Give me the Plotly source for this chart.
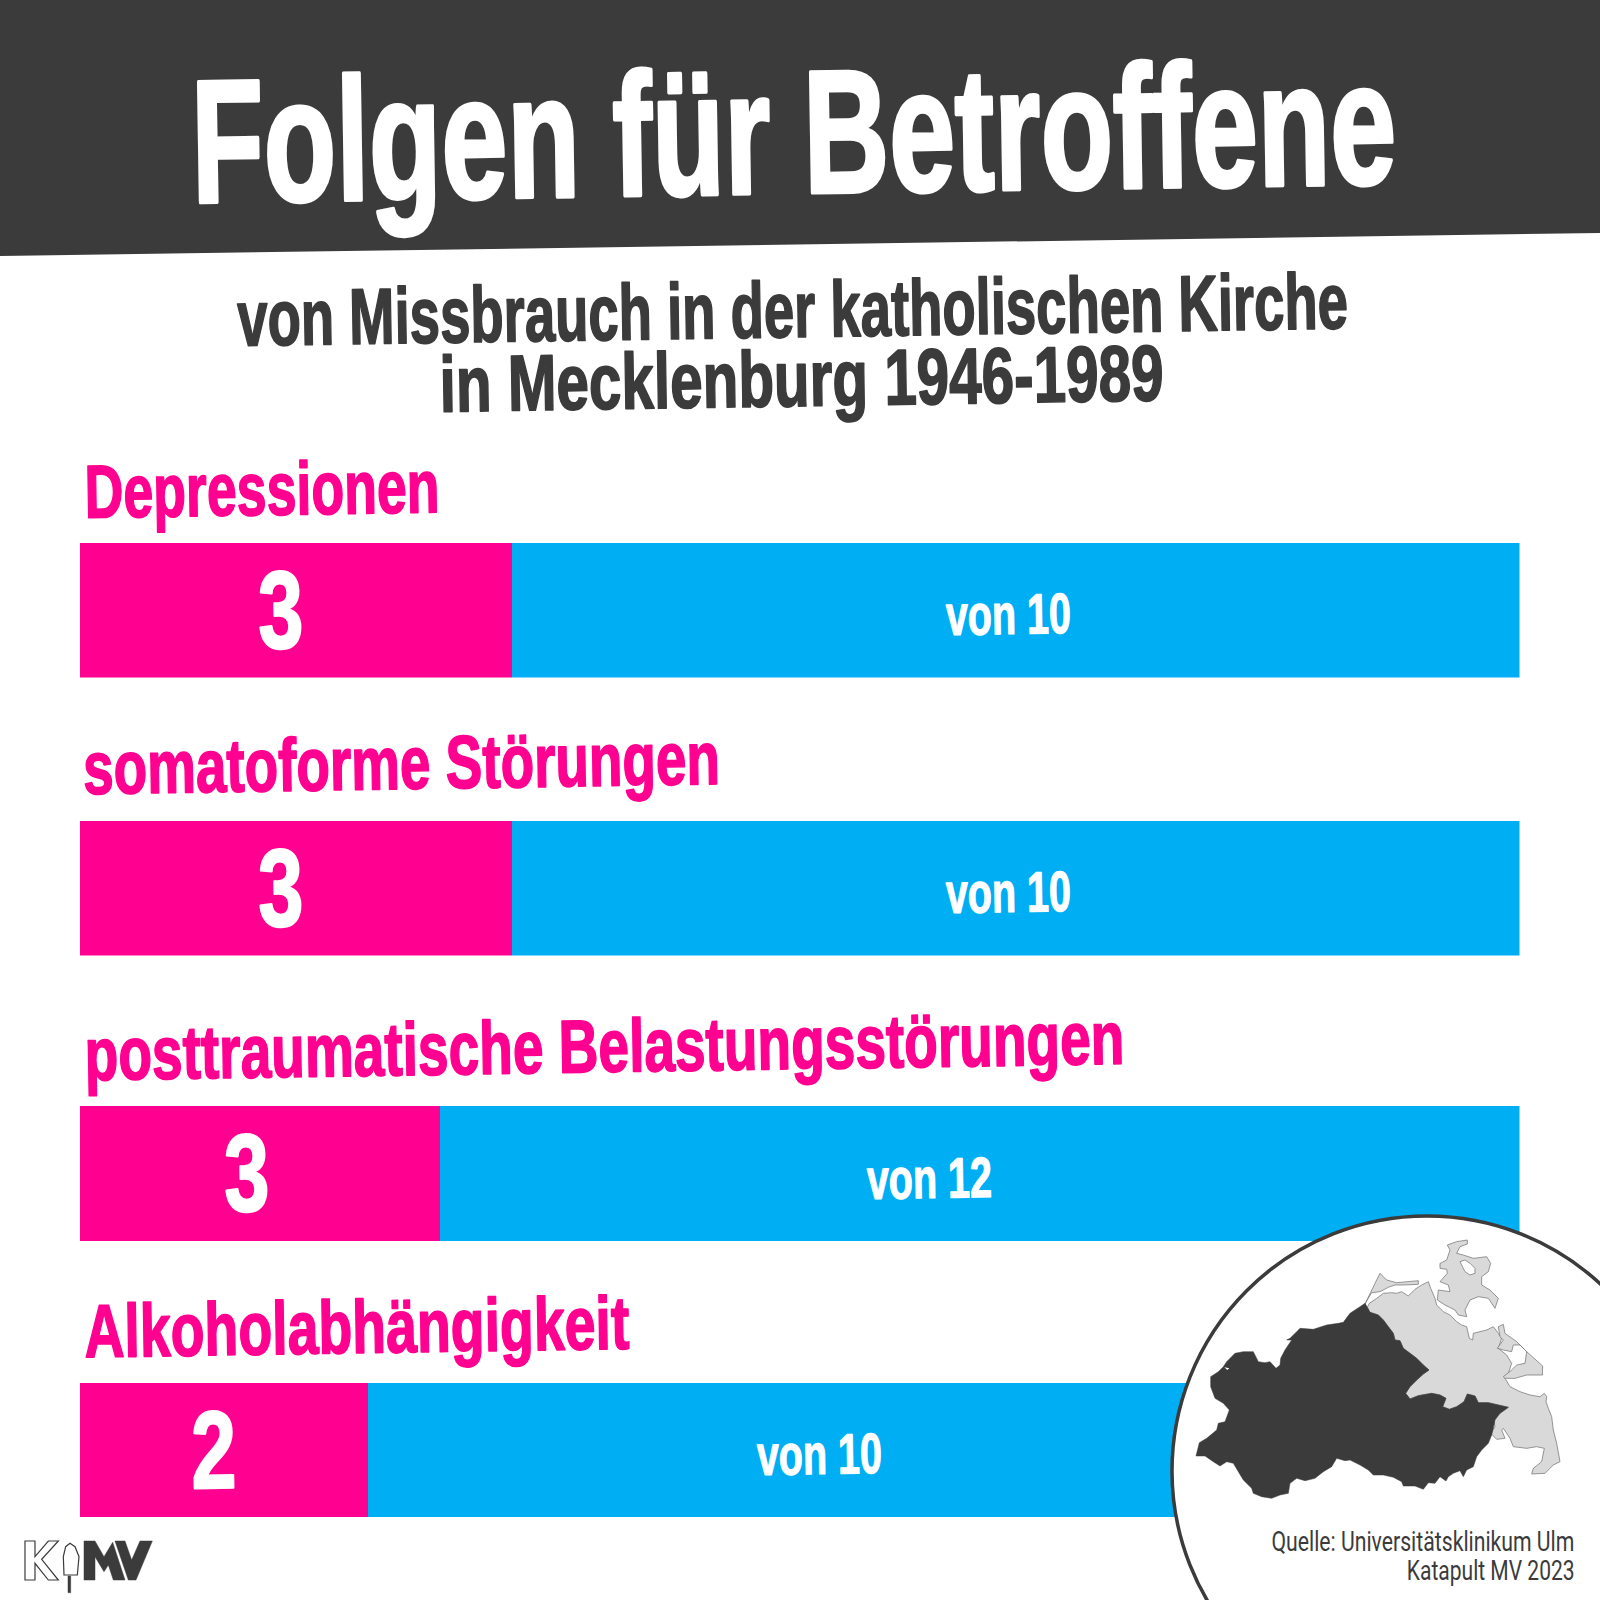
import json
import plotly.graph_objects as go

# ---- data ----
categories = ["Depressionen", "somatoforme Störungen", "posttraumatische Belastungsstörungen", "Alkoholabhängigkeit"]
affected = [3, 3, 3, 2]
totals = [10, 10, 12, 10]

title_text = "Folgen für Betroffene"
subtitle_lines = ["von Missbrauch in der katholischen Kirche", "in Mecklenburg 1946-1989"]
source_lines = ["Quelle: Universitätsklinikum Ulm", "Katapult MV 2023"]

# map outlines, traced in three 3x views of the inset: (x offset, y offset, points)
VIEW_A, VIEW_B, VIEW_C = (1190, 1290), (1360, 1230), (1360, 1380)
map_dark = [
    (VIEW_B, [(22,232),(30,247),(55,255),(70,270),(85,290),(100,310),(105,330),(120,332),(130,355),(150,370),(170,385),(190,405),(207,420),(190,432),(170,450),(150,470),(137,490)]),
    (VIEW_C, [(150,57),(175,47),(215,40),(240,45),(258,55),(248,80),(268,88),(290,80),(312,65),(322,42),(345,48),(355,68),(385,68),(415,75),(445,82),(420,100),(405,120),(400,145),(395,165),(385,190),(365,210),(350,230),(340,260),(320,270),(310,290),(300,272),(280,280),(265,290),(258,303),(240,290),(225,310),(205,308),(190,328),(165,318),(130,318),(125,305),(100,292),(70,285),(40,285),(25,270),(0,255)]),
    (VIEW_A, [(480,510),(465,512),(440,505),(425,530),(400,545),(375,565),(345,572),(320,565),(300,580),(295,610),(270,615),(245,625),(215,620),(190,610),(185,595),(160,570),(145,545),(130,520),(110,515),(90,528),(70,515),(45,498),(18,498),(28,458),(50,445),(80,420),(85,400),(105,395),(118,360),(100,340),(75,325),(62,290),(62,260),(85,245),(100,230),(110,215),(135,190),(160,185),(190,185),(205,215),(225,218),(240,215),(258,235),(270,225),(272,205),(285,180),(305,150),(290,150),(300,145),(320,125),(330,115),(370,118),(410,105),(445,100),(460,97),(480,70),(510,50),(525,40)]),
]
map_main = [
    (VIEW_B, [(22,232),(28,220),(50,205),(70,190),(95,188),(110,190),(125,185),(145,198),(165,178),(185,165),(205,155),(212,175),(225,205),(230,225),(250,245),(270,255),(290,275),(305,285),(320,290),(328,325),(338,330),(340,310),(380,300),(400,290),(415,310),(425,325),(415,355),(440,375),(455,400),(445,430),(435,445),(450,470),(480,485),(510,495),(540,500),(553,490),(560,500)]),
    (VIEW_C, [(558,65),(565,85),(575,110),(580,150),(590,190),(600,245),(580,255),(555,280),(515,282),(520,265),(545,245),(553,205),(530,200),(500,205),(460,200),(450,175),(430,145),(425,150),(435,175),(410,178),(392,160),(405,140),(400,115),(420,100),(445,82),(415,75),(385,68),(355,68),(345,48),(322,42),(312,65),(290,80),(268,88),(248,80),(258,55),(240,45),(215,40),(175,47),(150,57),(137,40)]),
    (VIEW_B, [(150,470),(170,450),(190,432),(207,420),(190,405),(170,385),(150,370),(130,355),(120,332),(105,330),(100,310),(85,290),(70,270),(55,255),(30,247)]),
]
map_darss = [(VIEW_B, [(12,228),(32,187),(45,160),(60,130),(80,150),(110,158),(175,152),(175,163),(130,165),(105,165),(85,172),(60,185),(35,188),(22,210)])]
map_ruegen = [(VIEW_B, [(245,98),(260,90),(270,60),(262,45),(290,35),(322,30),(322,42),(300,50),(290,70),(310,75),(340,85),(380,80),(392,100),(385,125),(365,140),(365,165),(390,180),(415,205),(405,235),(385,205),(355,200),(330,210),(315,240),(320,260),(295,255),(285,240),(255,225),(232,210),(235,180),(270,185),(265,165),(240,155),(262,130),(260,118),(240,115),(240,100)])]
map_bay = [(VIEW_B, [(300,95),(315,90),(330,100),(345,115),(345,130),(330,135),(315,125)])]
map_usedom = [(VIEW_B, [(415,290),(430,283),(435,310),(470,335),(500,365),(548,408),(547,435),(500,435),(465,445),(435,445),(430,440),(455,420),(470,405),(495,400),(500,365),(480,345),(460,345),(455,365),(430,360),(412,355),(430,330),(420,320)])]
map_hole = [(VIEW_A, [(103,232),(118,235),(112,240)])]

LOGO_VIEW = (0, 1500)
logo_k = [(LOGO_VIEW, [(75,123),(105,123),(105,170),(145,123),(175,123),(125,178),(175,240),(145,240),(105,190),(105,240),(75,240)])]
logo_ice = [(LOGO_VIEW, [(192,225),(190,170),(197,140),(210,130),(225,140),(237,170),(232,225)])]
logo_stick = [(LOGO_VIEW, [(204,228),(212,228),(212,278),(204,278)])]
logo_m = [(LOGO_VIEW, [(252,240),(252,123),(285,123),(312,170),(338,127),(375,240),(340,240),(325,195),(312,215),(285,170),(285,240)])]
logo_v = [(LOGO_VIEW, [(345,123),(375,123),(395,180),(420,123),(457,123),(408,240),(385,240)])]

# ---- style ----
PINK, BLUE, DARK = "#FF0090", "#00AEF3", "#3B3B3B"
LAND = "#D9D9D9"
COAST = "#6E6E6E"
FONT = "Liberation Sans"
ANGLE = -0.9
W = 1600
BAR_X = (80, 1519.5)
BAR_Y = [(543, 677.5), (820.5, 955.5), (1106, 1241), (1383, 1517)]
LABEL_POS = [(262, 489), (402, 763), (604, 1046), (356.5, 1327)]
NUM_SHIFT = [-15, -15, -13, -10]
REST_SHIFT = [-7, -7, -50, -124]

# rendered widths of the condensed lettering, in page pixels
TEXT_WIDTHS = {
    title_text: 1205,
    subtitle_lines[0]: 1111,
    subtitle_lines[1]: 724,
    categories[0]: 355,
    categories[1]: 637,
    categories[2]: 1040,
    categories[3]: 545,
    "von 10": 125,
    "von 12": 125,
    "3": 45,
    "2": 45,
    source_lines[0]: 303,
    source_lines[1]: 168,
}

px = lambda x: x / W
py = lambda y: 1 - y / W

fig = go.Figure()
layout = dict(
    width=W, height=W, margin=dict(l=0, r=0, t=0, b=0),
    paper_bgcolor="white", plot_bgcolor="white",
    barmode="stack", barnorm="fraction", bargap=0, showlegend=False,
    xaxis=dict(domain=[px(BAR_X[0]), px(BAR_X[1])], range=[0, 1], visible=False, fixedrange=True),
)

annotations = []
def text(x, y, s, size, color, bold=True, angle=ANGLE, font=FONT):
    annotations.append(dict(
        xref="paper", yref="paper", x=px(x), y=py(y), text=f"<b>{s}</b>" if bold else s,
        showarrow=False, xanchor="center", yanchor="middle", textangle=angle,
        font=dict(family=font, size=size, color=color),
    ))

for i, cat in enumerate(categories):
    ax = "y" if i == 0 else f"y{i+1}"
    layout["yaxis" if i == 0 else f"yaxis{i+1}"] = dict(
        domain=[py(BAR_Y[i][1]), py(BAR_Y[i][0])], visible=False, type="category",
        anchor="x", fixedrange=True,
    )
    fig.add_trace(go.Bar(y=[cat], x=[affected[i]], orientation="h", yaxis=ax, xaxis="x",
                         marker=dict(color=PINK, line_width=0), hoverinfo="skip"))
    fig.add_trace(go.Bar(y=[cat], x=[totals[i] - affected[i]], orientation="h", yaxis=ax, xaxis="x",
                         marker=dict(color=BLUE, line_width=0), hoverinfo="skip"))
    share = affected[i] / totals[i]
    annotations.append(dict(xref="x", yref=ax, x=share / 2, y=cat, xshift=NUM_SHIFT[i], yshift=1,
                            text=f"<b>{affected[i]}</b>", showarrow=False, textangle=ANGLE,
                            font=dict(family=FONT, size=110, color="white")))
    annotations.append(dict(xref="x", yref=ax, x=(1 + share) / 2, y=cat, xshift=REST_SHIFT[i], yshift=-4,
                            text=f"<b>von {totals[i]}</b>", showarrow=False, textangle=ANGLE,
                            font=dict(family=FONT, size=57, color="white")))
    text(LABEL_POS[i][0], LABEL_POS[i][1], cat, 75, PINK)

# header texts
text(793, 132, title_text, 175, "white")
text(792, 309, subtitle_lines[0], 79, DARK)
text(801, 379, subtitle_lines[1], 79, DARK)
text(1423, 1541, source_lines[0], 28, DARK, bold=False, angle=0, font="Roboto")
text(1490.5, 1570, source_lines[1], 28, DARK, bold=False, angle=0, font="Roboto")

def poly(parts, k=1/3):
    pts = [(o[0] + a * k, o[1] + b * k) for o, seg in parts for a, b in seg]
    return "M " + " L ".join(f"{px(a):.5f},{py(b):.5f}" for a, b in pts) + " Z"

shapes = [
    dict(type="path", xref="paper", yref="paper", layer="below",
         path=f"M 0,1 L 1,1 L 1,{py(233)} L 0,{py(256)} Z", fillcolor=DARK, line_width=0),
    dict(type="circle", xref="paper", yref="paper", layer="above",
         x0=px(1427-255), x1=px(1427+255), y0=py(1471+255), y1=py(1471-255),
         fillcolor="white", line=dict(color=DARK, width=3.5)),
]
for parts, fill, lc, lw in [(map_main, LAND, COAST, 0.7), (map_darss, LAND, COAST, 0.7),
                            (map_ruegen, LAND, COAST, 0.7), (map_usedom, LAND, COAST, 0.7),
                            (map_bay, "white", COAST, 0.7), (map_dark, DARK, DARK, 0.5),
                            (map_hole, "white", "white", 0),
                            (logo_k, "white", DARK, 1.2), (logo_ice, "white", DARK, 1.2),
                            (logo_stick, DARK, DARK, 0.5), (logo_m, DARK, DARK, 0.5), (logo_v, DARK, DARK, 0.5)]:
    shapes.append(dict(type="path", xref="paper", yref="paper", layer="above",
                       path=poly(parts), fillcolor=fill, line=dict(color=lc, width=lw)))

layout["annotations"] = annotations
layout["shapes"] = shapes
fig.update_layout(**layout)

# page without body margin; narrow each text around its centre and give bold
# lettering a little more weight (all of it stays real SVG text)
post = """
document.body.style.margin = '0';
var widths = %s;
document.querySelectorAll('g.annotation-text-g text').forEach(function (el) {
  var target = widths[el.textContent];
  if (!target) return;
  var cs = getComputedStyle(el);
  if (el.querySelector('tspan')) {
    el.style.stroke = cs.fill;
    el.style.strokeWidth = (parseFloat(cs.fontSize) * 0.022) + 'px';
    el.style.strokeLinejoin = 'round';
  }
  var s = target / el.getComputedTextLength();
  var x = parseFloat(el.getAttribute('x')) || 0;
  el.setAttribute('transform', 'translate(' + x + ',0) scale(' + s + ',1) translate(' + (-x) + ',0)');
});
""" % json.dumps(TEXT_WIDTHS, ensure_ascii=False)

fig.write_html("out.html", config=dict(displayModeBar=False), post_script=post)
